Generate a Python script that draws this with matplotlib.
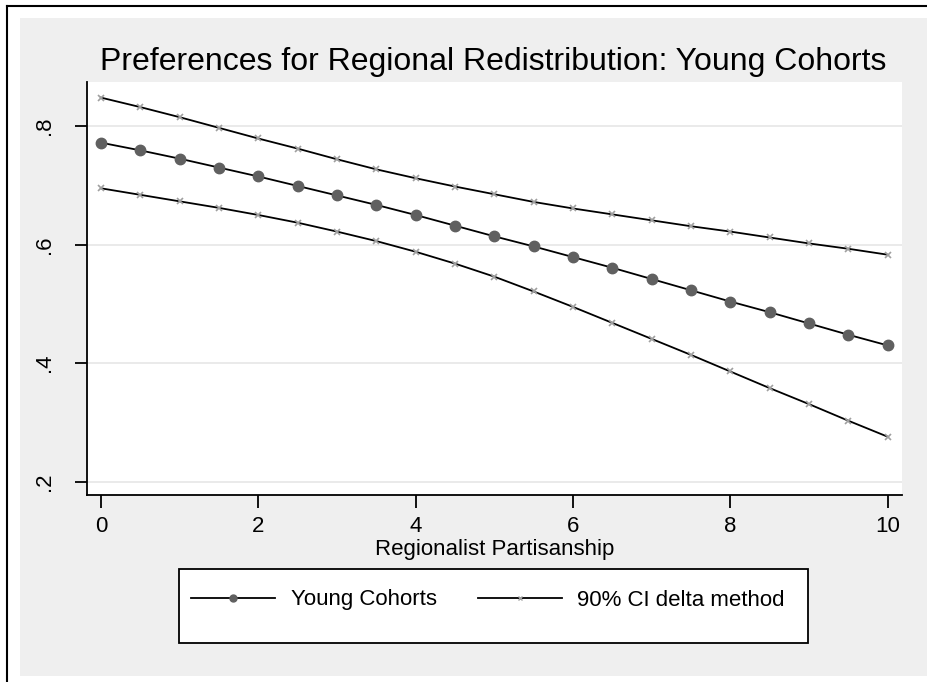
import numpy as np
import matplotlib
matplotlib.use('Agg')
import matplotlib.pyplot as plt
from matplotlib.patches import Rectangle
from matplotlib.lines import Line2D

plt.rcParams['font.family'] = ['Liberation Sans', 'DejaVu Sans']

# data
x = [0, 0.5, 1, 1.5, 2, 2.5, 3, 3.5, 4, 4.5, 5, 5.5, 6, 6.5, 7, 7.5, 8, 8.5, 9, 9.5, 10]
young = [0.772, 0.759, 0.745, 0.730, 0.715, 0.699, 0.683, 0.667, 0.650, 0.632, 0.614,
         0.597, 0.579, 0.561, 0.542, 0.523, 0.504, 0.486, 0.467, 0.448, 0.430]
ci_hi = [0.848, 0.832, 0.815, 0.797, 0.779, 0.762, 0.744, 0.727, 0.712, 0.698, 0.685,
         0.672, 0.661, 0.651, 0.641, 0.631, 0.622, 0.612, 0.602, 0.593, 0.583]
ci_lo = [0.695, 0.684, 0.673, 0.662, 0.650, 0.637, 0.622, 0.606, 0.588, 0.568, 0.546,
         0.521, 0.495, 0.468, 0.441, 0.414, 0.386, 0.358, 0.331, 0.303, 0.276]
xticks = [0, 2, 4, 6, 8, 10]
yticks = [0.2, 0.4, 0.6, 0.8]
ylabels = ['.2', '.4', '.6', '.8']

fig = plt.figure(figsize=(9.27, 6.82), dpi=100, facecolor='white')

# gray stata background + outer frame lines
fig.patches.append(Rectangle((20/927, 6/682), 1 - 20/927, 658/682, transform=fig.transFigure,
                             facecolor='#efefef', edgecolor='none', zorder=-5))
fig.lines.append(Line2D([7/927, 1], [1 - 6/682, 1 - 6/682], transform=fig.transFigure,
                        color='black', lw=1.5, zorder=-4))
fig.lines.append(Line2D([7/927, 7/927], [0, 1 - 6/682], transform=fig.transFigure,
                        color='black', lw=1.5, zorder=-4))

ax = fig.add_axes([86.7/927, 1 - 495/682, (901.7 - 86.7)/927, (495 - 81.7)/682])
ax.set_facecolor('white')

ax.plot(x, ci_hi, color='black', lw=1.3, marker='x', ms=5, mec='#a0a0a0', mew=1.2)
ax.plot(x, young, color='black', lw=1.3, marker='o', ms=7.5, mfc='#606060', mec='#606060')
ax.plot(x, ci_lo, color='black', lw=1.3, marker='x', ms=5, mec='#a0a0a0', mew=1.2)

ax.set_xlim(-0.18, 10.18)
ax.set_ylim(0.1776, 0.8748)
ax.set_xticks(xticks)
ax.set_yticks(yticks)
ax.set_yticklabels(ylabels, rotation=90, va='center')
ax.grid(axis='y', color='#e6e6e6', lw=1.2)
ax.set_axisbelow(True)
for s in ['top', 'right']:
    ax.spines[s].set_visible(False)
ax.spines['left'].set_linewidth(1.3)
ax.spines['bottom'].set_linewidth(1.3)
ax.tick_params(length=9, width=1.3, labelsize=16)
ax.tick_params(axis='x', pad=6)
ax.tick_params(axis='y', pad=14)
ax.set_xlabel('Regionalist Partisanship', fontsize=16, labelpad=1.5)

fig.text(493/927, 1 - 62/682, 'Preferences for Regional Redistribution: Young Cohorts',
         fontsize=23, ha='center', va='center')

# legend box
fig.patches.append(Rectangle((179/927, 1 - 643/682), 629/927, 74/682, transform=fig.transFigure,
                             facecolor='white', edgecolor='black', lw=1.3, zorder=1))
h1 = Line2D([], [], color='black', lw=1.3, marker='o', ms=5, mfc='#606060', mec='#606060')
h2 = Line2D([], [], color='black', lw=1.3, marker='x', ms=3.5, mec='#a0a0a0', mew=1)
fig.legend([h1, h2], ['Young Cohorts', '90% CI delta method'], ncol=2, frameon=False,
           loc='center left', bbox_to_anchor=(191/927, 1 - 600/682), fontsize=16,
           handlelength=3.8, handletextpad=0.68, columnspacing=1.85, borderpad=0,
           borderaxespad=0)

fig.savefig('out.png', dpi=100, facecolor='white')
